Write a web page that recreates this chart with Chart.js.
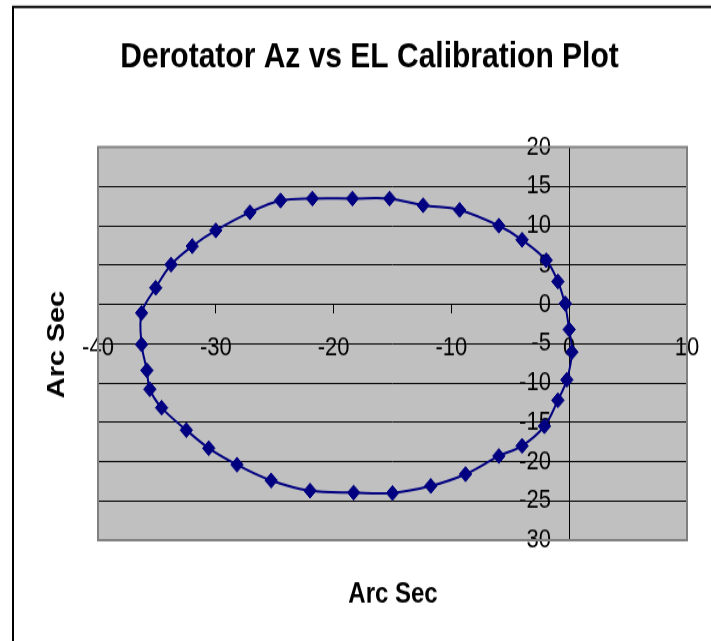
<!DOCTYPE html>
<html>
<head>
<meta charset="utf-8">
<title>Derotator Az vs EL Calibration Plot</title>
<script src="https://cdn.jsdelivr.net/npm/chart.js@4.4.1/dist/chart.umd.min.js"></script>
<style>
  html, body { margin: 0; padding: 0; background: #fff; }
  #calPlot { display: block; }
</style>
</head>
<body>
<!-- drawn at 711x534 and shown at 711x641, same as the exported sheet -->
<canvas id="calPlot" width="711" height="534" style="width:711px;height:641px"></canvas>
<script>
// Az / El offsets in arc sec, one reading per 10 deg of derotator travel
const azOffsets = [
  -0.34, 0.0, 0.23, -0.2, -0.96, -2.1, -4.0, -5.97, -8.8, -11.75,
  -15.0, -18.3, -22.0, -25.3, -28.2, -30.6, -32.5, -34.6, -35.6, -35.85,
  -36.3, -36.3, -35.1, -33.8, -32.0, -30.0, -27.1, -24.5, -21.8, -18.4,
  -15.25, -12.4, -9.3, -5.97, -4.0, -1.95, -0.96, -0.34
];
const elOffsets = [
  0.08, -3.2, -6.07, -9.6, -12.2, -15.5, -18.0, -19.3, -21.6, -23.1,
  -24.0, -23.95, -23.7, -22.4, -20.4, -18.3, -16.0, -13.15, -10.8, -8.4,
  -5.1, -1.1, 2.1, 5.05, 7.4, 9.4, 11.7, 13.2, 13.45, 13.45,
  13.45, 12.6, 12.0, 10.0, 8.2, 5.6, 2.9, 0.08
];

// axis tick values
const azTicks = [-40, -30, -20, -10, 0, 10];
const elTicks = [-30, -25, -20, -15, -10, -5, 0, 5, 10, 15, 20];

const chartTitle = 'Derotator Az vs EL Calibration Plot';
const xAxisTitle = 'Arc Sec';
const yAxisTitle = 'Arc Sec';

const fontFamily = "'Liberation Sans', Arial, sans-serif";
const plotBg = '#C0C0C0',
  plotEdge = '#808080',
  seriesColor = '#000080',
  inkColor = '#000000';

const points = azOffsets.map((az, i) => ({ x: az, y: elOffsets[i] }));

// plot area fill/edge, outer frame, chart and axis titles
const chartFrame = {
  id: 'chartFrame',
  beforeDraw(chart) {
    const { ctx, chartArea: a } = chart;
    ctx.save();
    ctx.fillStyle = '#ffffff';
    ctx.fillRect(0, 0, chart.width, chart.height);
    ctx.fillStyle = plotBg;
    ctx.fillRect(a.left, a.top, a.right - a.left, a.bottom - a.top);
    ctx.restore();
  },
  beforeDatasetsDraw(chart) {
    const { ctx, chartArea: a } = chart;
    ctx.save();
    ctx.strokeStyle = plotEdge;
    ctx.lineWidth = 2;
    ctx.strokeRect(a.left, a.top, a.right - a.left, a.bottom - a.top);
    ctx.restore();
  },
  afterDraw(chart) {
    const { ctx } = chart;
    ctx.save();
    ctx.strokeStyle = inkColor;
    ctx.lineWidth = 2;
    ctx.beginPath();
    ctx.moveTo(13, chart.height);
    ctx.lineTo(13, 5.8);
    ctx.lineTo(chart.width, 5.8);
    ctx.stroke();

    ctx.fillStyle = inkColor;
    ctx.textAlign = 'center';
    ctx.textBaseline = 'alphabetic';
    ctx.font = 'bold 30px ' + fontFamily;
    ctx.fillText(chartTitle, 369.5, 56);
    ctx.font = 'bold 24px ' + fontFamily;
    ctx.fillText(xAxisTitle, 393, 501.5);
    ctx.translate(64, 287);
    ctx.rotate(-Math.PI / 2);
    ctx.fillText(yAxisTitle, 0, 0);
    ctx.restore();
  }
};

new Chart(document.getElementById('calPlot'), {
  type: 'scatter',
  data: {
    datasets: [
      {
        data: points,
        showLine: true,
        tension: 0.35,
        borderColor: seriesColor,
        borderWidth: 2,
        backgroundColor: seriesColor,
        pointStyle: 'rectRot',
        pointRadius: 6.2,
        pointBorderWidth: 1,
        pointBorderColor: seriesColor,
        pointBackgroundColor: seriesColor,
        clip: false
      }
    ]
  },
  options: {
    responsive: false,
    animation: false,
    layout: {
      padding: { left: 98, right: 24, top: 122.5, bottom: 84 }
    },
    plugins: {
      legend: { display: false },
      tooltip: { enabled: false },
      title: { display: false }
    },
    scales: {
      x: {
        type: 'linear',
        position: { y: 0 },
        min: azTicks[0],
        max: azTicks[azTicks.length - 1],
        afterBuildTicks(scale) {
          scale.ticks = azTicks.map(v => ({ value: v }));
        },
        afterFit(scale) {
          // axis crosses inside the plot, keep it from taking layout room
          scale.height = 0;
          scale.paddingLeft = 0;
          scale.paddingRight = 0;
        },
        grid: {
          drawOnChartArea: false,
          tickLength: 7,
          tickColor: inkColor
        },
        border: { display: true, color: inkColor, width: 1 },
        ticks: {
          autoSkip: false,
          maxRotation: 0,
          padding: 16,
          color: inkColor,
          font: { family: fontFamily, size: 22 }
        }
      },
      y: {
        type: 'linear',
        position: { x: 0 },
        min: elTicks[0],
        max: elTicks[elTicks.length - 1],
        afterBuildTicks(scale) {
          scale.ticks = elTicks.map(v => ({ value: v }));
        },
        afterFit(scale) {
          scale.width = 0;
          scale.paddingTop = 0;
          scale.paddingBottom = 0;
        },
        grid: {
          color: c => (c.tick && (c.tick.value === elTicks[0] || c.tick.value === elTicks[elTicks.length - 1]))
            ? 'rgba(0,0,0,0)' : inkColor,
          lineWidth: 1,
          tickLength: 7,
          tickColor: inkColor
        },
        border: { display: true, color: inkColor, width: 1 },
        ticks: {
          autoSkip: false,
          color: inkColor,
          font: { family: fontFamily, size: 22 },
          // labels sit right against the axis line, so pad them out
          callback: v => v + '   '
        }
      }
    }
  },
  plugins: [chartFrame]
});
</script>
</body>
</html>
